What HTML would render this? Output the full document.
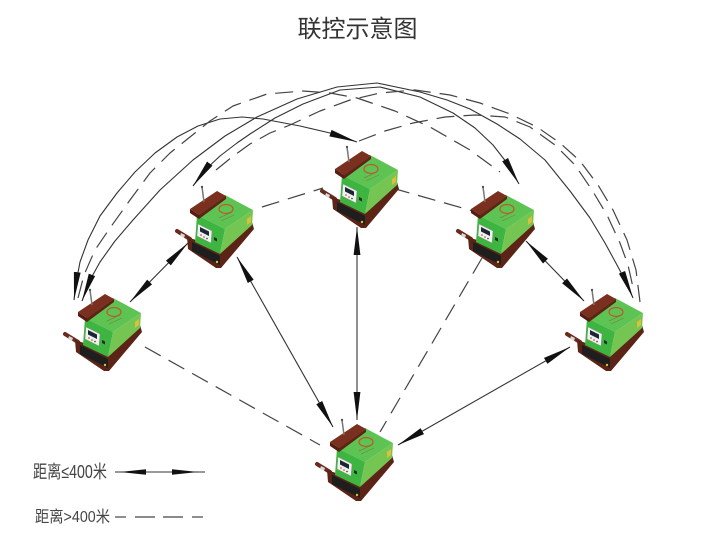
<!DOCTYPE html>
<html>
<head>
<meta charset="utf-8">
<style>
  html,body{margin:0;padding:0;background:#fff;}
  body{width:721px;height:545px;overflow:hidden;}
  svg{display:block;}
  .t{font-family:"Liberation Sans","Noto Sans CJK SC",sans-serif;}
</style>
</head>
<body>
<svg width="721" height="545" viewBox="0 0 721 545" xmlns="http://www.w3.org/2000/svg">
  <defs>
    <marker id="ah" markerUnits="userSpaceOnUse" viewBox="0 0 28 8" refX="28" refY="4" markerWidth="28" markerHeight="8" orient="auto-start-reverse">
      <path d="M0,0.6 L28,4 L0,7.4 Z" fill="#111"/>
    </marker>
    <g id="mc">
      <!-- rod -->
      <line x1="7" y1="49" x2="20" y2="57" stroke="#6a2a1c" stroke-width="4" stroke-linecap="round"/>
      <polygon points="11,51 15,53 14,56 10,54" fill="#d8d8d8"/>
      <!-- base -->
      <polygon points="17,55 26,58 50,70 82,40 84,47 51,86 46,86 18,67" fill="#5b2417"/>
      <polygon points="22,60 50,74 50,83 22,69" fill="#1e1e1e"/>
      <circle cx="47" cy="80" r="1.2" fill="#e0c020"/>
      <!-- green body -->
      <polygon points="27,33 55,13 83,28 55,47" fill="#5dc352"/>
      <polygon points="27,33 55,47 50,72 25,60" fill="#3db540"/>
      <polygon points="55,47 83,28 82,43 50,72" fill="#74c552"/>
      <polygon points="77,37 81,34 81,40 77,43" fill="#d8c23a"/>
      <!-- panel -->
      <polygon points="28,42 42,49 41,61 27,54" fill="#eef2ee" stroke="#888" stroke-width="0.4"/>
      <polygon points="30,45 39,49.5 39,54 30,49.5" fill="#1d2433"/>
      <circle cx="31" cy="53" r="0.8" fill="#c33"/>
      <circle cx="34" cy="55" r="0.8" fill="#c33"/>
      <circle cx="37" cy="56.5" r="0.8" fill="#333"/>
      <polygon points="44,55 47,56.5 47,59.5 44,58" fill="#2a2a2a"/>
      <!-- logo -->
      <ellipse cx="56" cy="27" rx="7" ry="4.5" fill="none" stroke="#c4552e" stroke-width="1.2"/>
      <line x1="49" y1="36" x2="62" y2="30" stroke="#8a6a3a" stroke-width="0.6"/>
      <line x1="51" y1="39" x2="64" y2="33" stroke="#8a6a3a" stroke-width="0.5"/>
      <!-- plate -->
      <polygon points="20,27 47,9 56,14 29,33" fill="#7b2f1f"/>
      <polygon points="20,27 29,33 29,37 20,31" fill="#551c12"/>
      <polygon points="29,33 56,14 56,17 29,37" fill="#5e2216"/>
      <!-- lever -->
      <line x1="32" y1="5" x2="34" y2="20" stroke="#777" stroke-width="1.5"/>
      <circle cx="32" cy="5" r="1.2" fill="#555"/>
    </g>
  </defs>

  <!-- title -->
  <text class="t" x="297.5" y="37" font-size="24" fill="#333" textLength="120" lengthAdjust="spacingAndGlyphs">联控示意图</text>

  <g fill="none" stroke-linejoin="round" stroke-linecap="butt">
    <!-- solid arcs -->
    <polyline stroke="#333" stroke-width="1.1" marker-start="url(#ah)" marker-end="url(#ah)"
      points="74,300 76,283 80,262 88,240 100,216 117,193 135,172 155,153 177,137 198,126 220,119 242,117 263,119 300,126 330,133 357,142"/>
    <polyline stroke="#333" stroke-width="1.1" marker-start="url(#ah)" marker-end="url(#ah)"
      points="82,301 90,280 100,262 115,241 133,220 160,190 193,160 225,136 257,117 297,99 337,87 377,83 420,92 447,100 470,109 497,124 520,139 545,160 570,191 590,218 605,243 617,265 627,284 633,298"/>
    <polyline stroke="#333" stroke-width="1.1" marker-start="url(#ah)" marker-end="url(#ah)"
      points="193,186 205,170 220,156 237,143 250,134 275,118 303,104 340,90 380,87 420,97 453,113 475,128 493,145 507,163 519,184"/>

    <!-- dashed arcs -->
    <polyline stroke="#444" stroke-width="1.2" stroke-dasharray="18 9"
      points="78,298 84,275 95,250 110,228 130,200 150,173 170,153 190,137 210,121 233,106 267,94 303,91 330,93 357,98 395,111 430,127 470,150 500,172"/>
    <polyline stroke="#444" stroke-width="1.2" stroke-dasharray="18 9"
      points="216,170 232,157 250,144 270,133 290,125 320,111 350,100 380,93 415,90 450,95 480,103 510,114 537,127 560,143 580,161 598,185 613,210 627,240 636,270 640,302"/>
    <polyline stroke="#444" stroke-width="1.2" stroke-dasharray="18 9"
      points="359,141 385,131 413,123 445,117 475,115 505,117 530,127 555,145 575,165 592,190 607,215 620,243 628,265 634,292"/>

    <!-- straight solid connectors -->
    <line x1="130" y1="302" x2="188" y2="243" stroke="#333" stroke-width="1.1" marker-start="url(#ah)" marker-end="url(#ah)"/>
    <line x1="237" y1="257" x2="333" y2="427" stroke="#333" stroke-width="1.1" marker-start="url(#ah)" marker-end="url(#ah)"/>
    <line x1="357" y1="227" x2="357" y2="420" stroke="#333" stroke-width="1.1" marker-start="url(#ah)" marker-end="url(#ah)"/>
    <line x1="526" y1="241" x2="584" y2="301" stroke="#333" stroke-width="1.1" marker-start="url(#ah)" marker-end="url(#ah)"/>
    <line x1="398" y1="445" x2="570" y2="347" stroke="#333" stroke-width="1.1" marker-start="url(#ah)" marker-end="url(#ah)"/>

    <!-- straight dashed connectors -->
    <line x1="262" y1="207" x2="323" y2="188" stroke="#444" stroke-width="1.2" stroke-dasharray="18 9"/>
    <line x1="392" y1="188" x2="473" y2="211" stroke="#444" stroke-width="1.2" stroke-dasharray="18 9"/>
    <line x1="145" y1="347" x2="320" y2="445" stroke="#444" stroke-width="1.2" stroke-dasharray="18 9"/>
    <line x1="482" y1="258" x2="380" y2="432" stroke="#444" stroke-width="1.2" stroke-dasharray="18 9"/>
  </g>

  <!-- machines -->
  <use href="#mc" transform="translate(58,285)"/>
  <use href="#mc" transform="translate(170,182)"/>
  <use href="#mc" transform="translate(315,142)"/>
  <use href="#mc" transform="translate(451,182)"/>
  <use href="#mc" transform="translate(560,285)"/>
  <use href="#mc" transform="translate(310,415)"/>

  <!-- legend -->
  <text class="t" x="33" y="478" font-size="18" fill="#444" textLength="74" lengthAdjust="spacingAndGlyphs">距离≤400米</text>
  <line x1="115" y1="472" x2="205" y2="472" stroke="#333" stroke-width="1.1"/>
  <polygon points="120,472 146,469.3 146,474.7" fill="#111"/>
  <polygon points="198,472 172,469.3 172,474.7" fill="#111"/>

  <text class="t" x="35" y="522" font-size="16" fill="#444" textLength="75" lengthAdjust="spacingAndGlyphs">距离&gt;400米</text>
  <g stroke="#444" stroke-width="1.2">
    <line x1="115" y1="517" x2="126" y2="517"/>
    <line x1="135" y1="517" x2="155" y2="517"/>
    <line x1="163" y1="517" x2="183" y2="517"/>
    <line x1="192" y1="517" x2="203" y2="517"/>
  </g>
</svg>
</body>
</html>
